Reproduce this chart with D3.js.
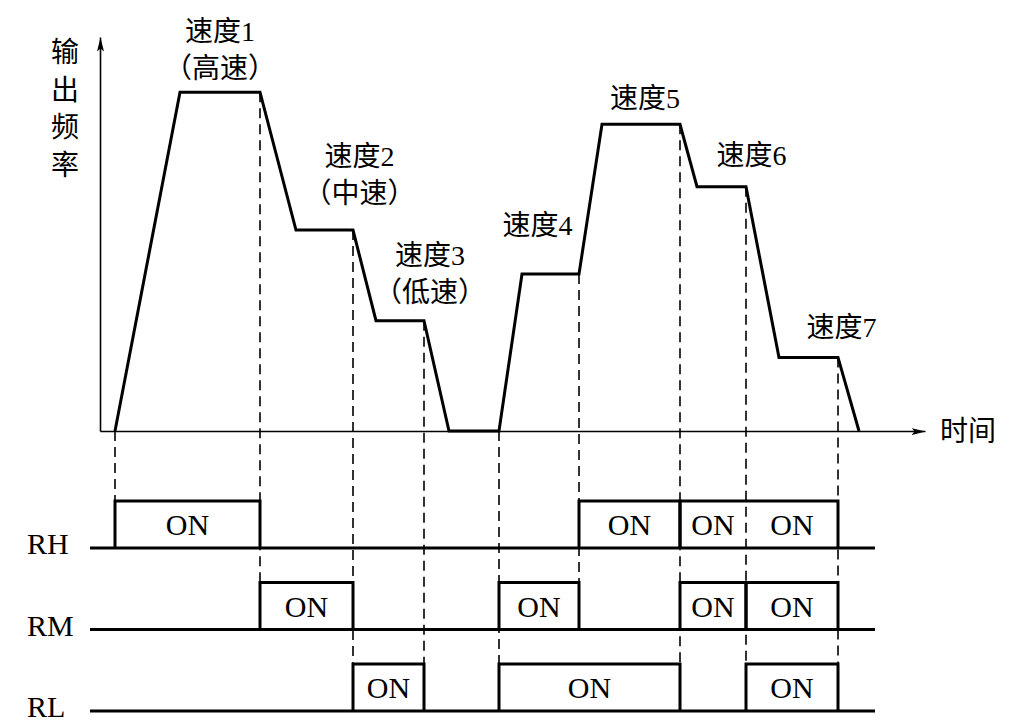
<!DOCTYPE html>
<html>
<head>
<meta charset="utf-8">
<script src="https://cdn.jsdelivr.net/npm/d3@7"></script>
<style>
  html, body { margin: 0; padding: 0; background: #fff; }
  svg { display: block; }
  text { fill: #000; }
</style>
</head>
<body>
<svg id="chart" width="1026" height="725"></svg>
<script>
// speed steps (multi-speed selection), frequency in Hz, time in arbitrary units
const speedNames = ['速度1', '速度2', '速度3', '速度4', '速度5', '速度6', '速度7'];
const speedNotes = ['（高速）', '（中速）', '（低速）', '', '', '', ''];
const speedLevels = [51.6, 30.6, 16.8, 23.9, 46.7, 37.2, 11.2];
const holdStart = [8.0, 19.6, 27.6, 42.2, 50.2, 59.7, 67.9];
const holdEnd = [16.0, 25.3, 32.4, 47.9, 58.0, 64.6, 73.8];
const speedRun = [0, 0, 0, 1, 1, 1, 1];
const runStart = [1.5, 39.9];
const runStop = [34.9, 75.9];

// relay terminals and their ON spans (speed index from..to)
const relays = ['RH', 'RM', 'RL'];
const relayBoxes = {
  RH: [[0, 0], [4, 4], [5, 6]],
  RM: [[1, 1], [3, 3], [5, 5], [6, 6]],
  RL: [[2, 2], [3, 4], [6, 6]],
};
const relayLabels = {
  RH: [[0, 0], [4, 4], [5, 5], [6, 6]],
  RM: [[1, 1], [3, 3], [5, 5], [6, 6]],
  RL: [[2, 2], [3, 4], [6, 6]],
};
const traceSpan = [-1.0, 77.5];

const yTitle = '输出频率';
const xTitle = '时间';

// label placement relative to each hold segment (px)
const labelShift = [[0, -24], [35, -37], [30, -29], [-13, -49], [4, -26], [30, -32], [33, -31]];

const svg = d3.select('#chart');
const cjk = '"Liberation Serif", "Noto Sans CJK SC", serif';

const x = d3.scaleLinear().domain([0, 82.5]).range([100, 925]);
const y = d3.scaleLinear().domain([0, 60]).range([431, 37]);
const row = d3.scalePoint().domain(relays).range([548, 711]);
const boxH = 47;

const defs = svg.append('defs');
defs.append('marker')
  .attr('id', 'arrow')
  .attr('viewBox', '0 -4 14 8')
  .attr('refX', 14)
  .attr('refY', 0)
  .attr('markerUnits', 'userSpaceOnUse')
  .attr('markerWidth', 14)
  .attr('markerHeight', 8)
  .attr('orient', 'auto')
  .append('path')
  .attr('d', 'M0,-3.5L14,0L0,3.5L3,0Z')
  .attr('fill', '#000');

// selection interval for each speed
const selStart = speedNames.map((_, i) =>
  i === 0 || speedRun[i - 1] !== speedRun[i] ? runStart[speedRun[i]] : holdEnd[i - 1]);

// frequency profile
const profile = [];
runStart.forEach((t0, r) => {
  profile.push([t0, 0]);
  speedNames.forEach((_, i) => {
    if (speedRun[i] !== r) return;
    profile.push([holdStart[i], speedLevels[i]]);
    profile.push([holdEnd[i], speedLevels[i]]);
  });
  profile.push([runStop[r], 0]);
});

// dashed switch guides
const boxEdges = {};
relays.forEach((name) => {
  boxEdges[name] = [];
  relayBoxes[name].forEach(([a, b]) => {
    boxEdges[name].push(selStart[a], holdEnd[b]);
  });
});
const guideTimes = Array.from(new Set([...selStart, ...holdEnd])).sort((a, b) => a - b);
const guides = guideTimes.map((t) => {
  const endIdx = holdEnd.indexOf(t);
  const f = endIdx >= 0 ? speedLevels[endIdx] : 0;
  let lowest = null;
  relays.forEach((name) => {
    if (boxEdges[name].some((e) => Math.abs(e - t) < 1e-6)) lowest = name;
  });
  return { t, f, to: lowest };
});

svg.append('g')
  .selectAll('line')
  .data(guides)
  .enter()
  .append('line')
  .attr('x1', (d) => x(d.t))
  .attr('x2', (d) => x(d.t))
  .attr('y1', (d) => y(d.f))
  .attr('y2', (d) => row(d.to) - boxH)
  .attr('stroke', '#000')
  .attr('stroke-width', 1.6)
  .attr('stroke-dasharray', '10,6');

// axes (no ticks, arrowed)
const yAxis = svg.append('g')
  .attr('transform', `translate(${x(0)},0)`)
  .call(d3.axisLeft(y).ticks(0).tickSizeOuter(0));
const xAxis = svg.append('g')
  .attr('transform', `translate(0,${y(0)})`)
  .call(d3.axisBottom(x).ticks(0).tickSizeOuter(0));
[yAxis, xAxis].forEach((g) => {
  g.select('.domain')
    .attr('stroke', '#000')
    .attr('stroke-width', 1.6)
    .attr('marker-end', 'url(#arrow)');
});

svg.append('path')
  .datum(profile)
  .attr('fill', 'none')
  .attr('stroke', '#000')
  .attr('stroke-width', 3)
  .attr('stroke-linejoin', 'miter')
  .attr('d', d3.line().x((d) => x(d[0])).y((d) => y(d[1])));

// axis titles
svg.append('g')
  .selectAll('text')
  .data(Array.from(yTitle))
  .enter()
  .append('text')
  .attr('x', 65)
  .attr('y', (d, i) => 52 + i * 37.7)
  .attr('dy', '0.36em')
  .attr('text-anchor', 'middle')
  .attr('font-family', cjk)
  .attr('font-size', 28)
  .text((d) => d);

svg.append('text')
  .attr('x', 940)
  .attr('y', y(0))
  .attr('dy', '0.36em')
  .attr('font-family', cjk)
  .attr('font-size', 28)
  .text(xTitle);

// speed labels
speedNames.forEach((name, i) => {
  const cx = x((holdStart[i] + holdEnd[i]) / 2) + labelShift[i][0];
  const cy = y(speedLevels[i]) + labelShift[i][1];
  const lines = speedNotes[i] ? [name, speedNotes[i]] : [name];
  lines.forEach((txt, k) => {
    svg.append('text')
      .attr('x', cx)
      .attr('y', cy - (lines.length - 1 - k) * 37)
      .attr('dy', '0.36em')
      .attr('text-anchor', 'middle')
      .attr('font-family', cjk)
      .attr('font-size', 28)
      .text(txt);
  });
});

// relay timing rows
relays.forEach((name) => {
  const g = svg.append('g');
  const base = row(name);

  g.append('line')
    .attr('x1', x(traceSpan[0]))
    .attr('x2', x(traceSpan[1]))
    .attr('y1', base)
    .attr('y2', base)
    .attr('stroke', '#000')
    .attr('stroke-width', 3);

  g.selectAll('path.box')
    .data(relayBoxes[name])
    .enter()
    .append('path')
    .attr('class', 'box')
    .attr('fill', 'none')
    .attr('stroke', '#000')
    .attr('stroke-width', 3)
    .attr('stroke-linejoin', 'miter')
    .attr('d', ([a, b]) => {
      const x0 = x(selStart[a]);
      const x1 = x(holdEnd[b]);
      return `M${x0},${base}V${base - boxH}H${x1}V${base}`;
    });

  g.selectAll('text.on')
    .data(relayLabels[name])
    .enter()
    .append('text')
    .attr('class', 'on')
    .attr('x', ([a, b]) => (x(selStart[a]) + x(holdEnd[b])) / 2)
    .attr('y', base - boxH / 2)
    .attr('dy', '0.35em')
    .attr('text-anchor', 'middle')
    .attr('font-family', '"Liberation Serif", serif')
    .attr('font-size', 30)
    .text('ON');

  g.append('text')
    .attr('x', 27)
    .attr('y', base + 6)
    .attr('font-family', '"Liberation Serif", serif')
    .attr('font-size', 30)
    .text(name);
});
</script>
</body>
</html>
